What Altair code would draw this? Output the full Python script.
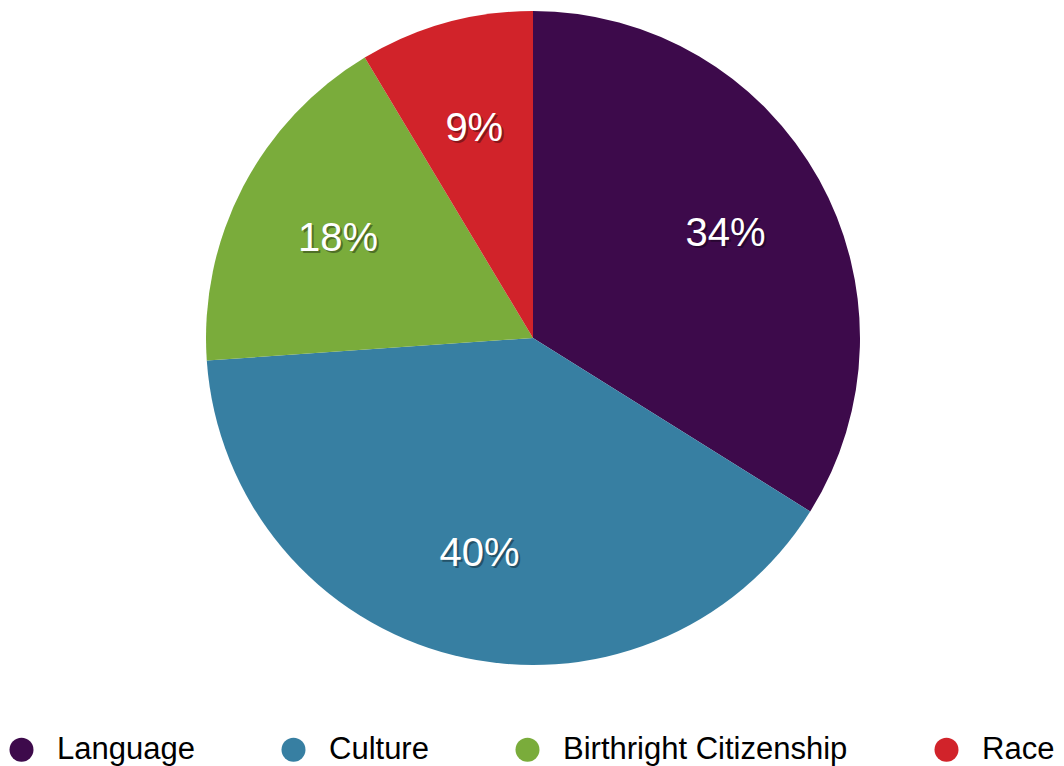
import altair as alt
import pandas as pd

categories = ["Language", "Culture", "Birthright Citizenship", "Race"]
shares = [33.9, 40.0, 17.5, 8.6]
labels = ["34%", "40%", "18%", "9%"]
colors = ["#3d0a4b", "#377fa2", "#7aac3b", "#d1232a"]

df = pd.DataFrame({
    "category": categories,
    "share": shares,
    "label": labels,
    "order": list(range(len(categories))),
})

FONT = "Liberation Sans"
CX, CY, R = 533, 338, 327
LR = 220

base = alt.Chart(df).encode(
    theta=alt.Theta("share:Q", stack=True),
    order=alt.Order("order:Q", sort="ascending"),
)

pie = base.mark_arc(outerRadius=R, strokeWidth=0).encode(
    x=alt.value(CX),
    y=alt.value(CY),
    color=alt.Color(
        "category:N",
        scale=alt.Scale(domain=categories, range=colors),
        sort=categories,
        legend=alt.Legend(
            orient="none",
            legendX=6,
            legendY=734,
            direction="horizontal",
            title=None,
            symbolType="circle",
            symbolSize=576,
            symbolStrokeWidth=0,
            symbolOpacity=1,
            labelFontSize=31,
            labelFont=FONT,
            labelColor="#000000",
            labelOffset=20,
            labelLimit=0,
            columnPadding=83,
            padding=0,
        ),
    ),
)

shadow = base.mark_text(
    radius=LR, font=FONT, fontSize=40, color="#000000", opacity=0.35,
    dx=2, dy=5, baseline="middle", align="center",
).encode(x=alt.value(CX), y=alt.value(CY), text="label:N")

text = base.mark_text(
    radius=LR, font=FONT, fontSize=40, color="#ffffff",
    dy=3, baseline="middle", align="center",
).encode(x=alt.value(CX), y=alt.value(CY), text="label:N")

chart = alt.layer(pie, shadow, text).properties(
    width=1064,
    height=766,
    autosize=alt.AutoSizeParams(type="none"),
    padding=0,
).configure_view(stroke=None)

chart.save("out.html", embed_options={"renderer": "svg", "actions": False})
